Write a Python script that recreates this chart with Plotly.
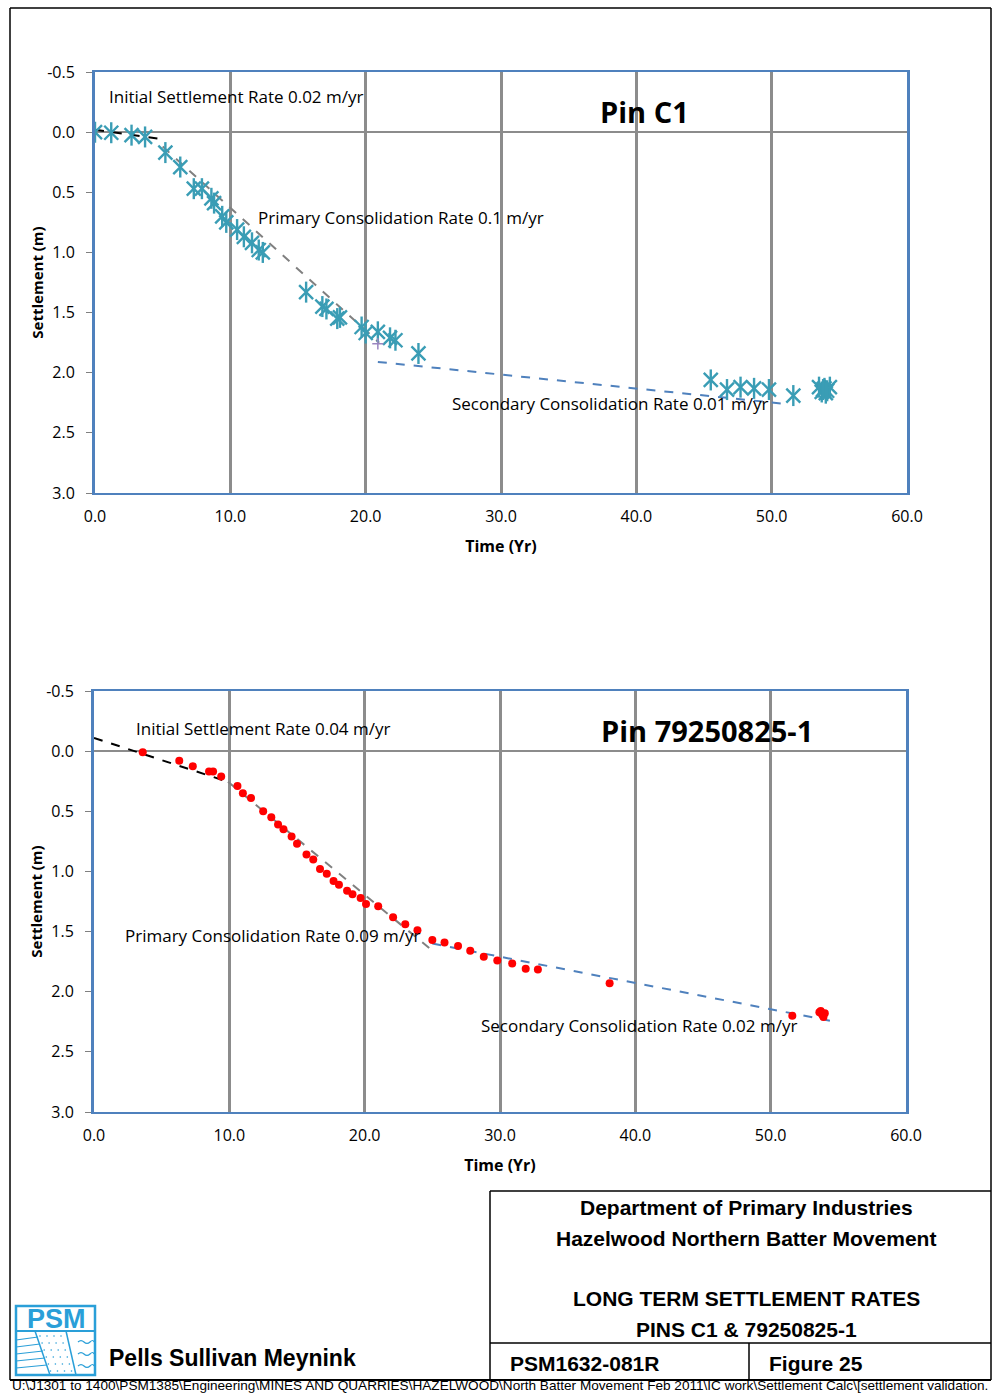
import plotly.graph_objects as go

W, H = 992, 1394

# ---------------- DATA ----------------
# Pin C1 (top chart)
c1_time = [0.0, 1.2, 2.7, 3.7, 5.2, 6.3, 7.3, 7.9, 8.6, 8.8, 9.4, 9.7, 10.5, 11.0,
           11.6, 12.1, 12.4, 15.6, 16.8, 17.1, 17.9, 18.1, 19.7, 20.0, 20.9, 21.8,
           22.2, 23.9, 45.5, 46.7, 47.7, 48.7, 49.8, 51.6,
           53.5, 53.7, 53.9, 54.1, 54.3, 53.8, 54.0]
c1_settle = [0.0, 0.005, 0.025, 0.04, 0.17, 0.29, 0.47, 0.47, 0.55, 0.59, 0.70, 0.75,
             0.81, 0.87, 0.92, 0.98, 1.00, 1.33, 1.45, 1.47, 1.55, 1.54, 1.62, 1.67,
             1.66, 1.71, 1.73, 1.84, 2.06, 2.14, 2.12, 2.13, 2.14, 2.19,
             2.12, 2.16, 2.13, 2.15, 2.12, 2.14, 2.17]
c1_extra_time = [20.9]
c1_extra_settle = [1.76]

c1_initial_x = [0.0, 5.1]
c1_initial_y = [-0.02, 0.06]
c1_primary_x = [5.0, 21.0]
c1_primary_y = [0.12, 1.75]
c1_secondary_x = [20.9, 51.1]
c1_secondary_y = [1.91, 2.26]

# Pin 79250825-1 (bottom chart)
p_time = [3.6, 6.3, 7.3, 8.5, 8.8, 9.4, 10.6, 11.0, 11.6, 12.5, 13.1, 13.6, 14.0, 14.6,
          15.0, 15.7, 16.2, 16.7, 17.2, 17.7, 18.1, 18.7, 19.1, 19.7, 20.1, 21.0, 22.1,
          23.0, 23.9, 25.0, 25.9, 26.9, 27.8, 28.8, 29.8, 30.9, 31.9, 32.8, 38.1, 51.6,
          53.6, 53.8, 54.0, 53.9, 53.7]
p_settle = [0.01, 0.08, 0.125, 0.17, 0.17, 0.21, 0.29, 0.35, 0.39, 0.50, 0.55, 0.61,
            0.65, 0.71, 0.77, 0.86, 0.90, 0.98, 1.02, 1.08, 1.11, 1.16, 1.19, 1.22, 1.27,
            1.29, 1.38, 1.44, 1.49, 1.57, 1.59, 1.62, 1.66, 1.71, 1.74, 1.765, 1.81,
            1.815, 1.93, 2.20, 2.17, 2.19, 2.18, 2.21, 2.16]

p_initial_x = [0.0, 9.9]
p_initial_y = [-0.11, 0.255]
p_primary_x = [9.9, 24.8]
p_primary_y = [0.255, 1.64]
p_secondary_x = [25.0, 54.8]
p_secondary_y = [1.60, 2.25]

x_ticks = [0, 10, 20, 30, 40, 50, 60]
x_tick_labels = ["0.0", "10.0", "20.0", "30.0", "40.0", "50.0", "60.0"]
y_ticks = [-0.5, 0.0, 0.5, 1.0, 1.5, 2.0, 2.5, 3.0]
y_tick_labels = ["-0.5", "0.0", "0.5", "1.0", "1.5", "2.0", "2.5", "3.0"]

top_labels = ["Initial Settlement Rate 0.02 m/yr", "Primary Consolidation Rate 0.1 m/yr",
              "Secondary Consolidation Rate 0.01 m/yr"]
bot_labels = ["Initial Settlement Rate 0.04 m/yr", "Primary Consolidation Rate 0.09 m/yr",
              "Secondary Consolidation Rate 0.02 m/yr"]

# ---------------- STYLE ----------------
TEAL = "#3A9DB5"
RED = "#FF0000"
BLUE = "#4F81BD"
GRID = "#8C8C8C"
FONT = "Open Sans"


def px_x(v):
    return v / W


def px_y(v):
    return 1 - v / H


fig = go.Figure()

# top chart traces
fig.add_trace(go.Scatter(x=c1_initial_x, y=c1_initial_y, mode="lines",
                         line=dict(color="black", width=2, dash="dash"),
                         xaxis="x", yaxis="y", showlegend=False))
fig.add_trace(go.Scatter(x=c1_primary_x, y=c1_primary_y, mode="lines",
                         line=dict(color="#808080", width=2, dash="dash"),
                         xaxis="x", yaxis="y", showlegend=False))
fig.add_trace(go.Scatter(x=c1_secondary_x, y=c1_secondary_y, mode="lines",
                         line=dict(color=BLUE, width=2, dash="dash"),
                         xaxis="x", yaxis="y", showlegend=False))
fig.add_trace(go.Scatter(x=c1_time, y=c1_settle, mode="markers",
                         marker=dict(symbol="x-thin-open", size=14, color=TEAL,
                                     line=dict(color=TEAL, width=2.4)),
                         xaxis="x", yaxis="y", showlegend=False))
fig.add_trace(go.Scatter(x=c1_time, y=c1_settle, mode="markers",
                         marker=dict(symbol="line-ns-open", size=15, color=TEAL,
                                     line=dict(color=TEAL, width=2.4)),
                         xaxis="x", yaxis="y", showlegend=False))
fig.add_trace(go.Scatter(x=c1_extra_time, y=c1_extra_settle, mode="markers",
                         marker=dict(symbol="cross-thin-open", size=8, color="#9A86C0",
                                     line=dict(color="#9A86C0", width=1.5)),
                         xaxis="x", yaxis="y", showlegend=False))

# bottom chart traces
fig.add_trace(go.Scatter(x=p_initial_x, y=p_initial_y, mode="lines",
                         line=dict(color="black", width=2, dash="dash"),
                         xaxis="x2", yaxis="y2", showlegend=False))
fig.add_trace(go.Scatter(x=p_primary_x, y=p_primary_y, mode="lines",
                         line=dict(color="#808080", width=2, dash="dash"),
                         xaxis="x2", yaxis="y2", showlegend=False))
fig.add_trace(go.Scatter(x=p_secondary_x, y=p_secondary_y, mode="lines",
                         line=dict(color=BLUE, width=2, dash="dash"),
                         xaxis="x2", yaxis="y2", showlegend=False))
fig.add_trace(go.Scatter(x=p_time, y=p_settle, mode="markers",
                         marker=dict(symbol="circle", size=8, color=RED),
                         xaxis="x2", yaxis="y2", showlegend=False))

xaxis_common = dict(range=[0, 60], tickvals=x_ticks, ticktext=x_tick_labels,
                    showgrid=True, gridcolor=GRID, gridwidth=3,
                    showline=True, linecolor=BLUE, linewidth=2, mirror=True,
                    zeroline=False, ticks="", ticklabelstandoff=8,
                    automargin=False,
                    tickfont=dict(family=FONT, size=16, color="black"),
                    title=dict(text="Time (Yr)", standoff=15,
                               font=dict(family=FONT, size=16, color="black", weight="bold")))
yaxis_common = dict(range=[3.0, -0.5], tickvals=y_ticks, ticktext=y_tick_labels,
                    showgrid=False, zeroline=True, zerolinecolor=GRID, zerolinewidth=2,
                    showline=True, linecolor=BLUE, linewidth=3, mirror=True,
                    ticks="outside", ticklen=6, tickcolor="#808080", ticklabelstandoff=8,
                    automargin=False,
                    tickfont=dict(family=FONT, size=16, color="black"),
                    title=dict(text="Settlement (m)", standoff=0,
                               font=dict(family=FONT, size=15, color="black", weight="bold")))

fig.update_layout(
    width=W, height=H,
    margin=dict(l=0, r=0, t=0, b=0, pad=0, autoexpand=False),
    paper_bgcolor="white", plot_bgcolor="white",
    xaxis=dict(domain=[px_x(95), px_x(907)], anchor="y", **xaxis_common),
    yaxis=dict(domain=[px_y(493), px_y(72)], anchor="x", **yaxis_common),
    xaxis2=dict(domain=[px_x(94), px_x(906)], anchor="y2", **xaxis_common),
    yaxis2=dict(domain=[px_y(1112), px_y(691)], anchor="x2", **yaxis_common),
)

ann = []
lbl_font = dict(family=FONT, size=17, color="black")
# top chart labels
ann.append(dict(x=0.85, y=-0.30, xref="x", yref="y", text=top_labels[0], showarrow=False,
                xanchor="left", yanchor="middle", font=lbl_font))
ann.append(dict(x=11.9, y=0.71, xref="x", yref="y", text=top_labels[1], showarrow=False,
                xanchor="left", yanchor="middle", font=lbl_font))
ann.append(dict(x=26.25, y=2.26, xref="x", yref="y", text=top_labels[2], showarrow=False,
                xanchor="left", yanchor="middle", font=lbl_font))
ann.append(dict(x=37.2, y=-0.17, xref="x", yref="y", text="Pin C1", showarrow=False,
                xanchor="left", yanchor="middle",
                font=dict(family=FONT, size=29, color="black", weight="bold")))
# bottom chart labels
ann.append(dict(x=2.95, y=-0.19, xref="x2", yref="y2", text=bot_labels[0], showarrow=False,
                xanchor="left", yanchor="middle", font=lbl_font))
ann.append(dict(x=2.15, y=1.53, xref="x2", yref="y2", text=bot_labels[1], showarrow=False,
                xanchor="left", yanchor="middle", font=lbl_font))
ann.append(dict(x=28.45, y=2.28, xref="x2", yref="y2", text=bot_labels[2], showarrow=False,
                xanchor="left", yanchor="middle", font=lbl_font))
ann.append(dict(x=37.3, y=-0.17, xref="x2", yref="y2", text="Pin 79250825-1", showarrow=False,
                xanchor="left", yanchor="middle",
                font=dict(family=FONT, size=29, color="black", weight="bold")))

# title block text
blk = dict(family="Liberation Sans, Arial", size=21, color="black", weight="bold")
for txt, yy in [("Department of Primary Industries", 1207),
                ("Hazelwood Northern Batter Movement", 1238),
                ("LONG TERM SETTLEMENT RATES", 1298),
                ("PINS C1 &amp; 79250825-1", 1329)]:
    ann.append(dict(x=px_x(746), y=px_y(yy), xref="paper", yref="paper", text=txt,
                    showarrow=False, xanchor="center", yanchor="middle", font=blk))
ann.append(dict(x=px_x(508), y=px_y(1363), xref="paper", yref="paper", text="PSM1632-081R",
                showarrow=False, xanchor="left", yanchor="middle", font=blk))
ann.append(dict(x=px_x(767), y=px_y(1363), xref="paper", yref="paper", text="Figure 25",
                showarrow=False, xanchor="left", yanchor="middle", font=blk))
ann.append(dict(x=px_x(107), y=px_y(1358), xref="paper", yref="paper",
                text="Pells Sullivan Meynink", showarrow=False, xanchor="left",
                yanchor="middle",
                font=dict(family="Liberation Sans, Arial", size=23, color="black", weight="bold")))
ann.append(dict(x=px_x(56), y=px_y(1319), xref="paper", yref="paper", text="PSM",
                showarrow=False, xanchor="center", yanchor="middle",
                font=dict(family="Liberation Sans, Arial", size=27, color="#2A9FD8", weight="bold")))
ann.append(dict(x=px_x(11), y=px_y(1394), xref="paper", yref="paper",
                text="U:\\J1301 to 1400\\PSM1385\\Engineering\\MINES AND QUARRIES\\HAZELWOOD\\North Batter Movement Feb 2011\\IC work\\Settlement Calc\\[settlement validation.",
                showarrow=False, xanchor="left", yanchor="bottom", borderpad=0,
                font=dict(family="Liberation Sans, Arial", size=13.6, color="black")))
fig.update_layout(annotations=ann)

# page frame and title block shapes
shapes = []


def line(x0, y0, x1, y1, color="black", width=1.5):
    shapes.append(dict(type="line", xref="paper", yref="paper",
                       x0=px_x(x0), y0=px_y(y0), x1=px_x(x1), y1=px_y(y1),
                       line=dict(color=color, width=width)))


line(10, 8, 991, 8)
line(10, 8, 10, 1380)
line(991, 8, 991, 1380)
line(10, 1380, 991, 1380, width=2)
line(490, 1191, 991, 1191)
line(490, 1191, 490, 1380)
line(490, 1343, 991, 1343)
line(749, 1343, 749, 1380)

# logo
LB = "#2A9FD8"
shapes.append(dict(type="rect", xref="paper", yref="paper", x0=px_x(16), y0=px_y(1375),
                   x1=px_x(95), y1=px_y(1306), line=dict(color=LB, width=2.5)))
line(16, 1331, 95, 1331, color=LB, width=2)
line(35, 1331, 50, 1375, color=LB, width=1.5)
line(66, 1331, 76, 1375, color=LB, width=1.5)
for yy, xr in [(1338, 38), (1345, 40), (1352, 43), (1359, 45), (1366, 47)]:
    line(16, yy + 2, xr, yy - 1, color=LB, width=1.2)
for yy in [1342, 1354, 1366]:
    shapes.append(dict(type="path", xref="paper", yref="paper",
                       path="M {},{} Q {},{} {},{} T {},{} T {},{}".format(
                           px_x(78), px_y(yy), px_x(81), px_y(yy - 3), px_x(84), px_y(yy),
                           px_x(90), px_y(yy), px_x(94), px_y(yy)),
                       line=dict(color=LB, width=1.2)))
for r in range(6):
    yy = 1336 + r * 7
    off = r * 2.1
    for c in range(4):
        xx = 40 + off + c * 7
        if xx < 72 + r * 0.5:
            shapes.append(dict(type="circle", xref="paper", yref="paper",
                               x0=px_x(xx - 0.8), x1=px_x(xx + 0.8),
                               y0=px_y(yy - 0.8), y1=px_y(yy + 0.8),
                               fillcolor=LB, line=dict(width=0)))
fig.update_layout(shapes=shapes)

fig.write_html(
    "out.html",
    config={"displayModeBar": False},
    post_script=("document.body.style.margin='0';"
                 "document.body.style.padding='0';"
                 "document.body.style.overflow='hidden';"
                 "document.documentElement.style.overflow='hidden';"),
)
